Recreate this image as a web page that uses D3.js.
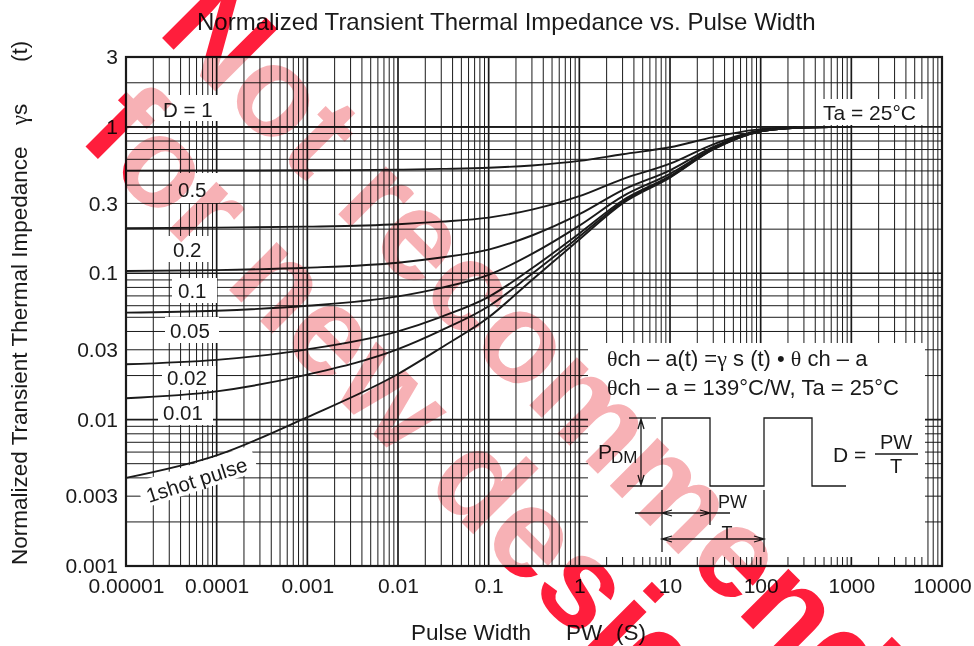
<!DOCTYPE html>
<html>
<head>
<meta charset="utf-8">
<script src="https://cdn.jsdelivr.net/npm/d3@7"></script>
<style>
body { margin: 0; background: #fff; }
svg { display: block; font-family: "Liberation Sans", Arial, sans-serif; }
</style>
</head>
<body>
<svg id="chart" width="974" height="646"></svg>
<script>
var pulseWidth = [1e-5, 1e-4, 1e-3, 1e-2, 3e-2, 0.1, 0.3, 1, 3, 10, 30, 100, 300, 1000];

// normalized impedance per duty cycle
var impD1     = [1, 1, 1, 1, 1, 1, 1, 1, 1, 1, 1, 1, 1, 1];
var impD05    = [0.502, 0.503, 0.505, 0.510, 0.516, 0.525, 0.545, 0.585, 0.65, 0.725, 0.85, 0.965, 0.995, 1];
var impD02    = [0.203, 0.205, 0.208, 0.216, 0.225, 0.24, 0.272, 0.336, 0.44, 0.56, 0.76, 0.944, 0.992, 1];
var impD01    = [0.1036, 0.105, 0.109, 0.118, 0.128, 0.145, 0.181, 0.253, 0.37, 0.505, 0.73, 0.937, 0.991, 1];
var impD005   = [0.0538, 0.0554, 0.0599, 0.0695, 0.0795, 0.0975, 0.1355, 0.2115, 0.335, 0.4775, 0.715, 0.9335, 0.9905, 1];
var impD002   = [0.0239, 0.0256, 0.0302, 0.0401, 0.0504, 0.069, 0.108, 0.187, 0.314, 0.461, 0.706, 0.931, 0.99, 1];
var impD001   = [0.014, 0.0156, 0.0203, 0.0303, 0.0407, 0.0595, 0.099, 0.178, 0.307, 0.4555, 0.703, 0.931, 0.99, 1];
var impSingle = [0.004, 0.0057, 0.0104, 0.0205, 0.031, 0.05, 0.09, 0.17, 0.30, 0.45, 0.70, 0.93, 0.99, 1];

var curveNames = ["D = 1", "0.5", "0.2", "0.1", "0.05", "0.02", "0.01", "1shot pulse"];

// axis ticks
var xTickVals = [1e-5, 1e-4, 1e-3, 1e-2, 0.1, 1, 10, 100, 1000, 1e4];
var xTickText = ["0.00001", "0.0001", "0.001", "0.01", "0.1", "1", "10", "100", "1000", "10000"];
var yTickVals = [3, 1, 0.3, 0.1, 0.03, 0.01, 0.003, 0.001];
var yTickText = ["3", "1", "0.3", "0.1", "0.03", "0.01", "0.003", "0.001"];

var series = [impD1, impD05, impD02, impD01, impD005, impD002, impD001, impSingle];

var pL = 126, pR = 942, pT = 57, pB = 566;

var svg = d3.select("#chart");

var x = d3.scaleLog().domain([1e-5, 1e4]).range([pL, pR]);
var y = d3.scaleLog().domain([0.001, 3]).range([pB, pT]);

function isDecade(v) {
    var l = Math.log10(v);
    return Math.abs(l - Math.round(l)) < 1e-6;
}

svg.append("rect").attr("width", 974).attr("height", 646).attr("fill", "#fff");

// grid
var grid = svg.append("g");
grid.selectAll("line.vx")
    .data(x.ticks())
    .enter().append("line")
    .attr("x1", function(d) { return x(d); })
    .attr("x2", function(d) { return x(d); })
    .attr("y1", pT).attr("y2", pB)
    .attr("stroke", "#1a1a1a")
    .attr("stroke-width", function(d) { return isDecade(d) ? 1.7 : 1; });
grid.selectAll("line.hy")
    .data(y.ticks())
    .enter().append("line")
    .attr("y1", function(d) { return y(d); })
    .attr("y2", function(d) { return y(d); })
    .attr("x1", pL).attr("x2", pR)
    .attr("stroke", "#1a1a1a")
    .attr("stroke-width", function(d) { return isDecade(d) ? 1.7 : 1; });

// white boxes that hide the grid behind labels
var boxes = [
    [158, 95, 60, 26],   // D = 1
    [172, 173, 47, 30],  // 0.5
    [168, 236, 44, 26],  // 0.2
    [172, 278, 45, 25],  // 0.1
    [165, 317, 54, 26],  // 0.05
    [162, 366, 54, 24],  // 0.02
    [158, 400, 55, 25],  // 0.01
    [818, 99, 105, 26],  // Ta = 25°C
    [588, 343, 337, 214] // inset
];
svg.append("g").selectAll("rect")
    .data(boxes)
    .enter().append("rect")
    .attr("x", function(d) { return d[0]; })
    .attr("y", function(d) { return d[1]; })
    .attr("width", function(d) { return d[2]; })
    .attr("height", function(d) { return d[3]; })
    .attr("fill", "#fff");

svg.append("rect")
    .attr("transform", "translate(147,500) rotate(-18)")
    .attr("x", -5).attr("y", -20).attr("width", 120).attr("height", 27)
    .attr("fill", "#fff");

// curves
var line = d3.line()
    .x(function(d) { return x(d[0]); })
    .y(function(d) { return y(d[1]); })
    .curve(d3.curveMonotoneX);

svg.append("g").selectAll("path")
    .data(series)
    .enter().append("path")
    .attr("d", function(s) { return line(s.map(function(v, i) { return [pulseWidth[i], v]; })); })
    .attr("fill", "none")
    .attr("stroke", "#1a1a1a")
    .attr("stroke-width", 1.9);

// curve labels
var lab = svg.append("g").attr("font-size", 20.5).attr("fill", "#1a1a1a");
var labelPos = [[163, 117], [178, 197], [173, 257], [178, 298], [170, 338], [167, 385], [163, 420]];
labelPos.forEach(function(p, i) {
    lab.append("text").attr("x", p[0]).attr("y", p[1]).text(curveNames[i]);
});
lab.append("text")
    .attr("transform", "translate(149,503) rotate(-18)")
    .attr("font-size", 20.5)
    .text(curveNames[7]);
lab.append("text").attr("x", 823).attr("y", 120).attr("font-size", 21).text("Ta = 25°C");

// inset
var inset = svg.append("g").attr("fill", "#1a1a1a").attr("font-size", 22);
var l1 = inset.append("text").attr("x", 607).attr("y", 366);
l1.append("tspan").attr("font-family", "Liberation Serif, serif").text("θ");
l1.append("tspan").text("ch – a(t) =");
l1.append("tspan").attr("font-family", "Liberation Serif, serif").text("γ");
l1.append("tspan").text(" s (t) • ");
l1.append("tspan").attr("font-family", "Liberation Serif, serif").text("θ");
l1.append("tspan").text(" ch – a");
var l2 = inset.append("text").attr("x", 607).attr("y", 395);
l2.append("tspan").attr("font-family", "Liberation Serif, serif").text("θ");
l2.append("tspan").text("ch – a = 139°C/W, Ta = 25°C");

var dia = svg.append("g").attr("fill", "none").attr("stroke", "#1a1a1a").attr("stroke-width", 1.3);
dia.append("path").attr("d", "M627,486H662V418H710V486H764V418H812V486H846");
dia.append("path").attr("d", "M629,418H656");
dia.append("path").attr("d", "M641,419V485M638,429L641,419L644,429M638,475L641,485L644,475");
dia.append("path").attr("d", "M662,490V552M710,490V525M764,490V552");
dia.append("path").attr("d", "M635,513H730M672,510L662,513L672,516M700,510L710,513L700,516");
dia.append("path").attr("d", "M662,539H764M672,536L662,539L672,542M754,536L764,539L754,542");
dia.append("path").attr("d", "M875,454H918");

inset.append("text").attr("x", 598).attr("y", 459).attr("font-size", 21).text("P");
inset.append("text").attr("x", 611).attr("y", 463).attr("font-size", 17).text("DM");
inset.append("text").attr("x", 718).attr("y", 508).attr("font-size", 18).text("PW");
inset.append("text").attr("x", 727).attr("y", 539).attr("font-size", 18).attr("text-anchor", "middle").text("T");
inset.append("text").attr("x", 833).attr("y", 462).attr("font-size", 21).text("D =");
inset.append("text").attr("x", 896).attr("y", 449).attr("font-size", 20).attr("text-anchor", "middle").text("PW");
inset.append("text").attr("x", 896).attr("y", 473).attr("font-size", 20).attr("text-anchor", "middle").text("T");

// frame
svg.append("rect")
    .attr("x", pL).attr("y", pT)
    .attr("width", pR - pL).attr("height", pB - pT)
    .attr("fill", "none").attr("stroke", "#1a1a1a").attr("stroke-width", 2.2);

// axes
var xAxis = d3.axisBottom(x)
    .tickValues(xTickVals)
    .tickFormat(function(d, i) { return xTickText[i]; })
    .tickSize(0).tickPadding(12);
var gx = svg.append("g").attr("transform", "translate(0," + pB + ")").call(xAxis);
gx.select(".domain").remove();
gx.selectAll("text").attr("font-size", 21).attr("fill", "#1a1a1a")
    .attr("font-family", "Liberation Sans, Arial, sans-serif");

var yAxis = d3.axisLeft(y)
    .tickValues(yTickVals)
    .tickFormat(function(d, i) { return yTickText[i]; })
    .tickSize(0).tickPadding(8);
var gy = svg.append("g").attr("transform", "translate(" + pL + ",0)").call(yAxis);
gy.select(".domain").remove();
gy.selectAll("text").attr("font-size", 21).attr("fill", "#1a1a1a")
    .attr("font-family", "Liberation Sans, Arial, sans-serif");

// titles
svg.append("text").attr("x", 197).attr("y", 30).attr("font-size", 24).attr("fill", "#1a1a1a")
    .text("Normalized Transient Thermal Impedance vs. Pulse Width");

var xt = svg.append("text").attr("y", 640).attr("font-size", 22.5).attr("fill", "#1a1a1a");
xt.append("tspan").attr("x", 411).text("Pulse Width");
xt.append("tspan").attr("x", 566).text("PW");
xt.append("tspan").attr("x", 616).text("(S)");

var yt = svg.append("text").attr("transform", "translate(27,565) rotate(-90)")
    .attr("font-size", 22.5).attr("fill", "#1a1a1a");
yt.append("tspan").attr("x", 0).text("Normalized Transient Thermal Impedance");
yt.append("tspan").attr("x", 440).attr("font-family", "Liberation Serif, serif").text("γ");
yt.append("tspan").text("s");
yt.append("tspan").attr("x", 503).text("(t)");

// watermark
var defs = svg.append("defs");
defs.append("clipPath").attr("id", "inPlot")
    .append("rect").attr("x", pL).attr("y", pT).attr("width", pR - pL).attr("height", pB - pT);
defs.append("clipPath").attr("id", "outPlot")
    .append("path").attr("clip-rule", "evenodd")
    .attr("d", "M0,0H974V646H0Z M" + pL + "," + pT + "V" + pB + "H" + pR + "V" + pT + "Z");

var wmText = ["Not recommended", "for new designs"];
var wmAnchor = [[156, 32], [77, 138]];
[["inPlot", "#f7b1b5"], ["outPlot", "#ff1e3c"]].forEach(function(c) {
    var g = svg.append("g").attr("clip-path", "url(#" + c[0] + ")")
        .style("mix-blend-mode", "multiply");
    wmText.forEach(function(t, i) {
        g.append("text")
            .attr("transform", "translate(" + wmAnchor[i][0] + "," + wmAnchor[i][1] + ") rotate(45)")
            .attr("font-size", 128).attr("font-weight", "bold").attr("fill", c[1])
            .text(t);
    });
});
</script>
</body>
</html>
